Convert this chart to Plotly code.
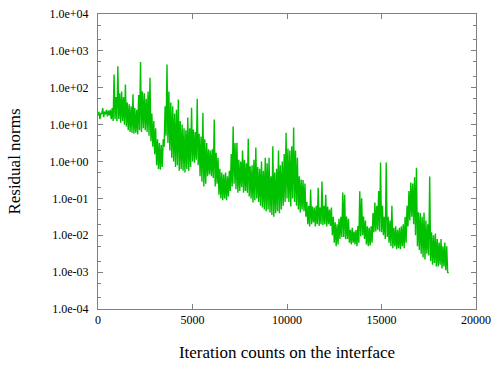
import plotly.graph_objects as go

# Band of the residual-norm trace, in decades (log10),
# one pair (bottom of band, top of band / spike) every 100 iterations.
band_low = [
    1.25, 1.15, 1.30, 1.20, 1.28, 1.22, 1.25, 1.15, 1.10, 1.15,
    1.10, 1.15, 1.05, 1.10, 1.00, 0.95, 0.85, 0.80, 0.78, 0.75,
    0.78, 0.73, 0.85, 0.80, 0.90, 0.85, 0.80, 0.70, 0.55, 0.40,
    0.20, -0.10, -0.20, -0.22, -0.15, 0.40, 0.70, 0.50, 0.30, 0.10,
    0.00, -0.15, -0.10, -0.25, -0.20, -0.25, -0.30, -0.20, -0.25, -0.15,
    0.00, -0.03, 0.05, -0.10, -0.40, -0.55, -0.68, -0.60, -0.40, -0.35,
    -0.40, -0.45, -0.68, -0.60, -0.90, -1.00, -1.05, -1.00, -1.05, -0.95,
    -0.80, -0.68, -0.60, -0.75, -0.85, -0.80, -0.70, -0.85, -0.80, -0.85,
    -0.95, -1.00, -1.11, -1.05, -1.00, -1.10, -1.20, -1.25, -1.30, -1.35,
    -1.30, -1.38, -1.45, -1.50, -1.40, -1.35, -1.40, -1.30, -1.20, -1.10,
    -1.00, -1.10, -1.22, -1.00, -1.10, -1.20, -1.30, -1.38, -1.30, -1.35,
    -1.50, -1.70, -1.76, -1.70, -1.65, -1.76, -1.70, -1.75, -1.70, -1.72,
    -1.70, -1.76, -1.70, -1.75, -2.00, -2.20, -2.30, -2.25, -2.10, -2.05,
    -2.05, -2.11, -2.10, -2.20, -2.25, -2.20, -2.25, -2.30, -2.20, -2.03,
    -2.00, -2.10, -2.25, -2.30, -2.28, -2.20, -1.92, -1.90, -1.85, -1.90,
    -1.92, -2.00, -2.10, -2.05, -2.20, -2.30, -2.35, -2.30, -2.38, -2.35,
    -2.38, -2.30, -2.35, -2.20, -1.76, -1.60, -1.50, -1.70, -2.00, -2.30,
    -2.40, -2.50, -2.60, -2.66, -2.50, -2.55, -2.70, -2.80, -2.75, -2.85,
    -2.85, -2.80, -2.90, -2.85, -2.95, -3.02,
]
band_high = [
    1.35, 1.30, 1.45, 1.35, 1.40, 1.38, 1.40, 1.45, 2.36, 1.75,
    2.58, 1.85, 1.90, 1.75, 2.09, 1.60, 1.55, 1.50, 1.82, 1.45,
    1.40, 1.80, 2.70, 1.90, 1.85, 1.70, 1.90, 2.27, 1.30, 1.10,
    0.90, 0.60, 0.50, 0.45, 0.60, 1.50, 2.63, 1.90, 1.60, 1.50,
    1.30, 1.40, 1.68, 1.10, 1.00, 0.90, 0.85, 1.19, 0.90, 1.46,
    0.87, 0.80, 1.70, 0.75, 0.68, 1.32, 0.60, 0.50, 0.33, 0.30,
    0.33, 1.14, 0.24, 0.10, -0.20, -0.30, -0.35, -0.30, -0.40, -0.25,
    0.20, 0.95, 0.50, 0.51, 0.05, 0.00, 0.30, 0.05, -0.05, 0.62,
    -0.13, -0.10, 0.05, 0.38, -0.15, -0.20, 0.00, -0.25, 0.10, -0.05,
    0.10, -0.40, 0.41, -0.30, -0.20, 0.30, -0.10, 0.00, 0.20, 0.78,
    0.35, 0.30, 0.41, 0.92, 0.30, 0.10, -0.40, -0.49, -0.50, -0.60,
    -1.10, -1.20, -0.76, -1.22, -1.25, -1.20, -0.71, -1.25, -0.54, -1.20,
    -0.90, -1.22, -1.30, -1.25, -1.50, -1.65, -1.70, -1.55, -1.50, -0.84,
    -0.90, -1.49, -1.55, -1.85, -1.80, -1.90, -1.85, -1.75, -0.81, -1.00,
    -1.49, -1.60, -1.76, -1.80, -1.76, -1.40, -1.11, -1.20, -0.80, -0.03,
    -1.20, -1.50, -0.03, -1.50, -1.60, -1.20, -1.80, -1.76, -1.85, -1.80,
    -1.76, -1.70, -1.50, -1.20, -0.80, -0.57, -0.60, -0.43, -0.17, -1.38,
    -1.40, -1.50, -1.38, -1.60, -1.70, -0.41, -1.92, -2.00, -1.95, -2.10,
    -2.20, -2.10, -2.30, -2.20, -2.30, -3.00,
]
iteration_step = 100

n = min(len(band_low), len(band_high))
iterations = []
residuals = []
for i in range(n):
    it = i * iteration_step
    iterations += [it, it + iteration_step // 2]
    residuals += [10 ** band_low[i], 10 ** band_high[i]]

y_tick_vals = [1e-4, 1e-3, 1e-2, 1e-1, 1e0, 1e1, 1e2, 1e3, 1e4]
y_tick_text = ["1.0e-04", "1.0e-03", "1.0e-02", "1.0e-01", "1.0e+00",
               "1.0e+01", "1.0e+02", "1.0e+03", "1.0e+04"]
x_tick_vals = [0, 5000, 10000, 15000, 20000]
x_tick_text = ["0", "5000", "10000", "15000", "20000"]

minor_y = []
for e in range(-4, 4):
    minor_y += [2 * 10 ** e, 5 * 10 ** e]

serif = "Liberation Serif"
axis_gray = "#7f7f7f"

fig = go.Figure()
fig.add_trace(go.Scatter(
    x=iterations, y=residuals, mode="lines",
    line=dict(color="#00c000", width=1.4),
    showlegend=False,
))

fig.update_layout(
    width=491, height=370,
    margin=dict(l=98, r=15, t=14, b=61),
    paper_bgcolor="white", plot_bgcolor="white",
    font=dict(family=serif, color="black", size=12),
)
fig.update_xaxes(
    range=[0, 20000], tickvals=x_tick_vals, ticktext=x_tick_text,
    showgrid=False, zeroline=False, automargin=False,
    showline=True, linecolor=axis_gray, linewidth=1, mirror="ticks",
    ticks="inside", ticklen=5, tickcolor=axis_gray,
    tickfont=dict(family=serif, size=12),
    title=dict(text="Iteration counts on the interface",
               font=dict(family=serif, size=17), standoff=19),
)
fig.update_yaxes(
    type="log", range=[-4, 4], tickvals=y_tick_vals, ticktext=y_tick_text,
    showgrid=False, zeroline=False, automargin=False,
    showline=True, linecolor=axis_gray, linewidth=1, mirror="ticks",
    ticks="inside", ticklen=5, tickcolor=axis_gray,
    tickfont=dict(family=serif, size=12), ticklabelstandoff=6,
    minor=dict(tickvals=minor_y, ticks="inside", ticklen=3, tickcolor=axis_gray, showgrid=False),
    title=dict(text="Residual norms", font=dict(family=serif, size=17), standoff=24),
)

fig.write_html("out.html")
